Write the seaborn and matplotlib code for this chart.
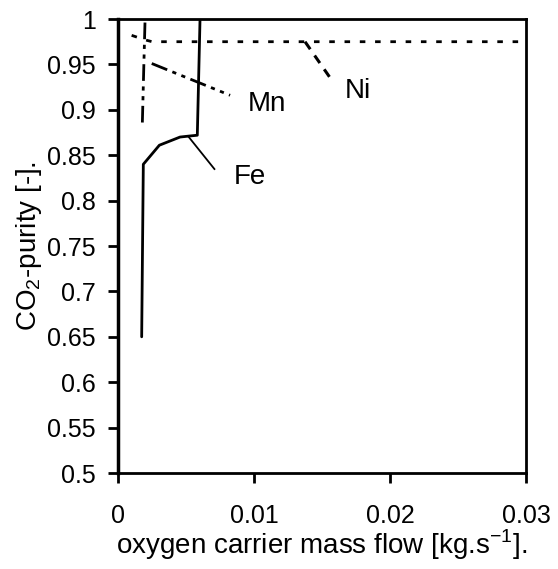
import matplotlib
matplotlib.use("Agg")
import matplotlib.pyplot as plt
import seaborn as sns
import pandas as pd

# ---- data ----
fe_x = [0.00174, 0.00186, 0.00304, 0.00456, 0.00517, 0.00583, 0.00603]
fe_y = [0.650, 0.840, 0.861, 0.870, 0.871, 0.872, 1.000]
mn_x = [0.00179, 0.00190, 0.00199]
mn_y = [0.886, 0.950, 1.000]
ni_x = [0.0010, 0.0020, 0.0025, 0.0300]
ni_y = [0.982, 0.977, 0.975, 0.975]

x_ticks = [0, 0.01, 0.02, 0.03]
x_tick_labels = ["0", "0.01", "0.02", "0.03"]
y_ticks = [0.5, 0.55, 0.6, 0.65, 0.7, 0.75, 0.8, 0.85, 0.9, 0.95, 1.0]
y_tick_labels = ["0.5", "0.55", "0.6", "0.65", "0.7", "0.75", "0.8", "0.85", "0.9", "0.95", "1"]

labels = ["Fe", "Mn", "Ni"]
label_text_xy = [(0.0097, 0.826), (0.01096, 0.9064), (0.01765, 0.9207)]
leader_start = [(0.00515, 0.871), (0.00248, 0.951), (0.01375, 0.975)]
leader_end = [(0.00713, 0.834), (0.00824, 0.916), (0.0157, 0.933)]

sns.set_style("white")
plt.rcParams["font.family"] = ["Liberation Sans", "DejaVu Sans"]
plt.rcParams["mathtext.fontset"] = "custom"
plt.rcParams["mathtext.rm"] = "Liberation Sans"
for k in ["text.color", "axes.labelcolor", "xtick.color", "ytick.color", "xtick.labelcolor", "ytick.labelcolor"]:
    plt.rcParams[k] = "black"

fig = plt.figure(figsize=(5.58, 5.69), dpi=100)
ax = fig.add_axes([0.2115, 0.1687, 0.9427 - 0.2115, 0.9666 - 0.1687])

df_fe = pd.DataFrame({"x": fe_x, "y": fe_y})
df_mn = pd.DataFrame({"x": mn_x, "y": mn_y})
df_ni = pd.DataFrame({"x": ni_x, "y": ni_y})

sns.lineplot(data=df_fe, x="x", y="y", sort=False, ax=ax, color="black", lw=2.0, estimator=None)
sns.lineplot(data=df_mn, x="x", y="y", sort=False, ax=ax, color="black", lw=2.0, estimator=None)
ax.lines[-1].set_dashes([6, 2, 1.5, 2, 1.5, 2])
sns.lineplot(data=df_ni, x="x", y="y", sort=False, ax=ax, color="black", lw=2.0, estimator=None)
ax.lines[-1].set_dashes([2, 3.5])

leader_styles = [dict(lw=1.3), dict(lw=2.0, dashes=[6, 2, 1.5, 2, 1.5, 2]), dict(lw=2.2, dashes=[3, 2.5])]
for lab, txy, s0, s1, st in zip(labels, label_text_xy, leader_start, leader_end, leader_styles):
    ln, = ax.plot([s0[0], s1[0]], [s0[1], s1[1]], color="black", solid_capstyle="butt")
    ln.set_linewidth(st["lw"])
    if "dashes" in st:
        ln.set_dashes(st["dashes"])
    ax.text(txy[0], txy[1], lab, fontsize=20, ha="center", va="center", color="black")

ax.set_xlim(0, 0.03)
ax.set_ylim(0.5, 1.0)
ax.set_xticks(x_ticks)
ax.set_xticklabels(x_tick_labels)
ax.set_yticks(y_ticks)
ax.set_yticklabels(y_tick_labels)
ax.tick_params(axis="both", direction="out", length=7, width=2, labelsize=18, color="black",
               labelcolor="black", bottom=True, left=True)
ax.tick_params(axis="y", pad=9)
ax.tick_params(axis="x", pad=15)
for s in ax.spines.values():
    s.set_color("black")
    s.set_linewidth(2)
ax.spines["left"].set_linewidth(2.5)

ax.set_xlabel("oxygen carrier mass flow [kg.s$^{\\mathregular{-1}}$].", fontsize=20, labelpad=0, color="black")
ax.set_ylabel("CO$_{\\mathregular{2}}$-purity [-].", fontsize=20, labelpad=2, color="black")

fig.savefig("out.png", dpi=100)
